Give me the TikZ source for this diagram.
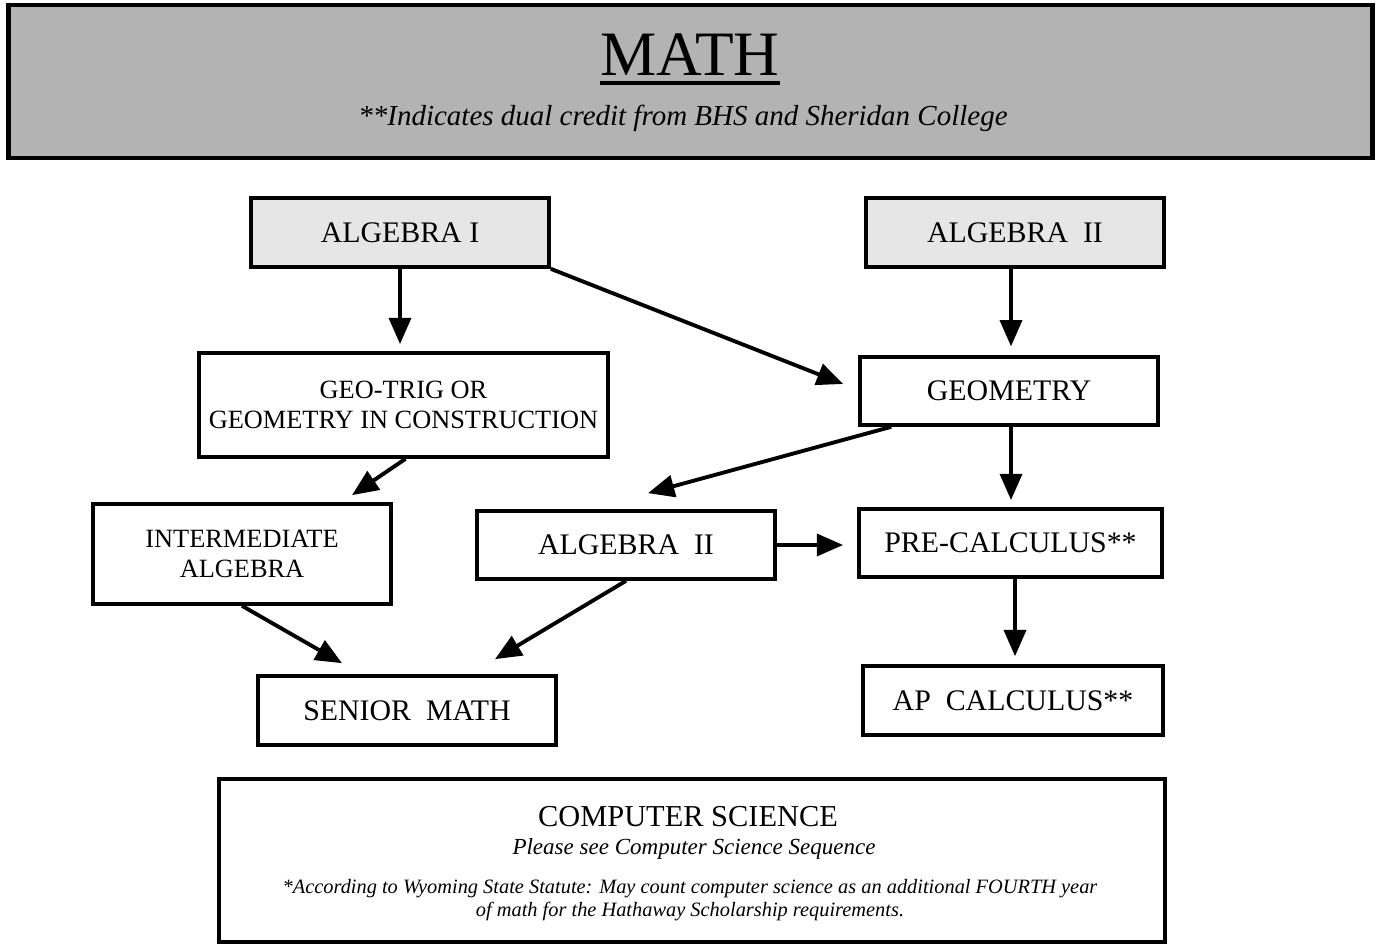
\documentclass[tikz,border=0pt]{standalone}
\usepackage{fontspec}
\setmainfont{Liberation Serif}
\usetikzlibrary{arrows.meta,calc}
\definecolor{hdrgray}{HTML}{B3B3B3}
\definecolor{boxgray}{HTML}{E6E6E6}
\tikzset{
  box/.style={draw=black, line width=2.1pt, inner sep=0pt, align=center, font=\fontsize{17}{19}\selectfont},
  smallbox/.style={box, font=\fontsize{15}{17}\selectfont},
  graybox/.style={box, fill=boxgray},
  arr/.style={line width=2.2pt, -{Triangle[length=15pt, width=12.5pt]}},
}
\begin{document}
\begin{tikzpicture}[x=0.02cm, y=-0.02cm]
\useasboundingbox (0,0) rectangle (1376,945);
% header
\node[draw=black, line width=2.8pt, fill=hdrgray, minimum width=27.3cm, minimum height=3.06cm, inner sep=0pt] (hdr) at (690.5,81.5) {};
\node[font=\fontsize{36}{40}\selectfont, inner sep=0pt, anchor=base] (title) at (690,76) {MATH};
\draw[line width=2.2pt] (title.west |- 0,83) -- (title.east |- 0,83);
\node[font=\fontsize{16.5}{19}\selectfont\itshape, inner sep=0pt] (sub) at (683,118) {**Indicates dual credit from BHS and Sheridan College};
% nodes
\node[graybox, minimum width=5.96cm, minimum height=1.38cm] (alg1) at (400,232.5) {ALGEBRA I};
\node[graybox, minimum width=5.96cm, minimum height=1.38cm] (alg2t) at (1015,232.5) {ALGEBRA\ \ II};
\node[smallbox, minimum width=8.18cm, minimum height=2.08cm] (geotrig) at (403.5,405) {GEO-TRIG OR\\GEOMETRY IN CONSTRUCTION};
\node[box, minimum width=5.96cm, minimum height=1.36cm] (geom) at (1009,391) {GEOMETRY};
\node[smallbox, minimum width=5.96cm, minimum height=2.0cm] (inter) at (242,554) {INTERMEDIATE\\ALGEBRA};
\node[box, minimum width=5.96cm, minimum height=1.36cm] (alg2m) at (626,545) {ALGEBRA\ \ II};
\node[box, minimum width=6.06cm, minimum height=1.36cm] (precalc) at (1010.5,543) {PRE-CALCULUS**};
\node[box, minimum width=5.96cm, minimum height=1.38cm] (senior) at (407,710.5) {SENIOR\ \ MATH};
\node[box, minimum width=6.0cm, minimum height=1.38cm] (apcalc) at (1013,700.5) {AP\ \ CALCULUS**};
\node[box, minimum width=18.92cm, minimum height=3.26cm] (cs) at (692,860.5) {};
\node[font=\fontsize{17.3}{19}\selectfont, inner sep=0pt] (cstitle) at (688,817) {COMPUTER SCIENCE};
\node[font=\fontsize{13.1}{15}\selectfont\itshape, inner sep=0pt] (cssub) at (694,849) {Please see Computer Science Sequence};
\node[font=\fontsize{11.6}{13.5}\selectfont\itshape, inner sep=0pt, align=center] (csnote) at (690,900) {*According to Wyoming State Statute: May count computer science as an additional FOURTH year\\of math for the Hathaway Scholarship requirements.};
% arrows
\draw[arr, shorten >=4pt] (alg1.south) -- (alg1.south |- geotrig.north);
\draw[arr] (alg1.south east) -- ($(geom.west)+(-15,-7)$);
\coordinate (a2s) at ($(alg2t.south)+(-4,0)$);
\draw[arr, shorten >=5pt] (a2s) -- (a2s |- geom.north);
\draw[arr] ($(geom.south west)+(33,0)$) -- ($(alg2m.north)+(22,-16)$);
\coordinate (gs) at ($(geom.south)+(2,0)$);
\draw[arr, shorten >=4pt] (gs) -- (gs |- precalc.north);
\draw[arr] ($(geotrig.south)+(2,0)$) -- ($(inter.north)+(110,-7)$);
\draw[arr, shorten >=8pt] (alg2m.east) -- (alg2m.east -| precalc.west);
\coordinate (ps) at ($(precalc.south)+(4.5,0)$);
\draw[arr, shorten >=4.5pt] (ps) -- (ps |- apcalc.north);
\draw[arr] (inter.south) -- ($(senior.north)+(-65,-11)$);
\draw[arr] (alg2m.south) -- ($(senior.north)+(88,-15)$);
\end{tikzpicture}
\end{document}
